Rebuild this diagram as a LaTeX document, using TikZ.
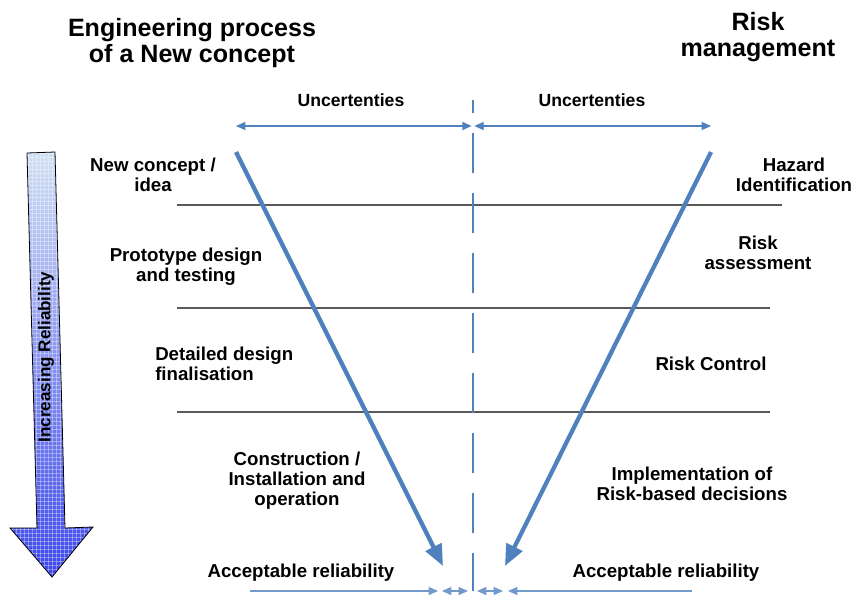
\documentclass[tikz,border=0pt]{standalone}
\usepackage{fontspec}
\setmainfont{Liberation Sans}
\usetikzlibrary{arrows.meta,patterns}
\definecolor{vblue}{RGB}{79,129,189}
\definecolor{toplight}{RGB}{210,224,244}
\definecolor{botblue}{RGB}{60,70,235}
\begin{document}
\begin{tikzpicture}[x=0.75pt,y=-0.75pt,
  lbl/.style={font=\bfseries\fontsize{14}{15}\selectfont, align=center, inner sep=0pt},
  unclbl/.style={font=\bfseries\fontsize{13.2}{15}\selectfont, inner sep=0pt},
  rotlbl/.style={font=\bfseries\fontsize{12.8}{15}\selectfont, inner sep=0pt},
  ttl/.style={font=\bfseries\fontsize{18.8}{19.5}\selectfont, align=center, inner sep=0pt},
  sepline/.style={draw=black!65, line width=0.9pt},
  bigarr/.style={vblue, line width=3.2pt, -{Triangle[length=16pt,width=13pt]}},
  unc/.style={vblue, line width=1pt, {Triangle[length=7pt,width=6pt]}-{Triangle[length=7pt,width=6pt]}},
  accl/.style={vblue!80, line width=1pt},
  centerline/.style={vblue, line width=2.2pt, dash pattern=on 30pt off 15pt, dash phase=20.25pt}
]
\useasboundingbox (0,0) rectangle (854,597);

% titles
\node[ttl] (t1) at (192,43) {Engineering process\\of a New concept};
\node[ttl] (t2) at (758,37) {Risk\\management};

% uncertainties
\node[unclbl] (u1) at (351,100) {Uncertenties};
\node[unclbl] (u2) at (592,100) {Uncertenties};
\coordinate (ul) at (236,126);
\coordinate (um) at (473,126);
\coordinate (ur) at (711,126);
\draw[unc] (ul) -- ([xshift=-1]um);
\draw[unc] ([xshift=1]um) -- (ur);

% separators
\coordinate (s1a) at (177,205); \coordinate (s1b) at (782,205);
\coordinate (s2a) at (177,308); \coordinate (s2b) at (770,308);
\coordinate (s3a) at (177,412); \coordinate (s3b) at (770,412);
\draw[sepline] (s1a) -- (s1b);
\draw[sepline] (s2a) -- (s2b);
\draw[sepline] (s3a) -- (s3b);

% center dashed line
\coordinate (ctop) at (473,100);
\coordinate (cbot) at (473,591);
\draw[centerline] (ctop) -- (cbot);

% big blue arrows
\coordinate (la) at (236,152); \coordinate (lb) at (443,566);
\coordinate (ra) at (711,152); \coordinate (rb) at (505,566);
\draw[bigarr] (la) -- (lb);
\draw[bigarr] (ra) -- (rb);

% bottom line with arrows
\coordinate (b0) at (250,591);
\coordinate (b1) at (438,591);
\coordinate (b2) at (442,591);
\coordinate (b3) at (468,591);
\coordinate (b4) at (477,591);
\coordinate (b5) at (503,591);
\coordinate (b6) at (508,591);
\coordinate (b7) at (692,591);
\draw[accl, -{Triangle[length=7pt,width=6pt]}] (b0) -- (b1);
\draw[accl, {Triangle[length=7pt,width=6pt]}-{Triangle[length=7pt,width=6pt]}] (b2) -- (b3);
\draw[accl, {Triangle[length=7pt,width=6pt]}-{Triangle[length=7pt,width=6pt]}] (b4) -- (b5);
\draw[accl, {Triangle[length=7pt,width=6pt]}-] (b6) -- (b7);

% left labels
\node[lbl] (n1) at (153,175) {New concept /\\idea};
\node[lbl] (n2) at (186,267) {Prototype design\\and testing};
\node[lbl, align=left, anchor=west] (n3) at (155,364) {Detailed design\\finalisation};
\node[lbl] (n4) at (297,481) {Construction /\\Installation and\\operation};
\node[lbl] (n5) at (301,573) {Acceptable reliability};

% right labels
\node[lbl] (r1) at (794,175) {Hazard\\Identification};
\node[lbl] (r2) at (758,253) {Risk\\assessment};
\node[lbl] (r3) at (711,364) {Risk Control};
\node[lbl] (r4) at (692,484) {Implementation of\\Risk-based decisions};
\node[lbl] (r5) at (666,573) {Acceptable reliability};

% increasing reliability arrow
\path[top color=toplight, bottom color=botblue]
  (27,153) -- (55,152) -- (65,528) -- (93,527) -- (52,577) -- (10,528) -- (37,528) -- cycle;
\path[pattern=grid, pattern color=white, opacity=0.35]
  (27,153) -- (55,152) -- (65,528) -- (93,527) -- (52,577) -- (10,528) -- (37,528) -- cycle;
\draw[black, line width=0.6pt]
  (27,153) -- (55,152) -- (65,528) -- (93,527) -- (52,577) -- (10,528) -- (37,528) -- cycle;
\node[rotlbl, rotate=90] (ir) at (46,357) {Increasing Reliability};
\end{tikzpicture}
\end{document}
